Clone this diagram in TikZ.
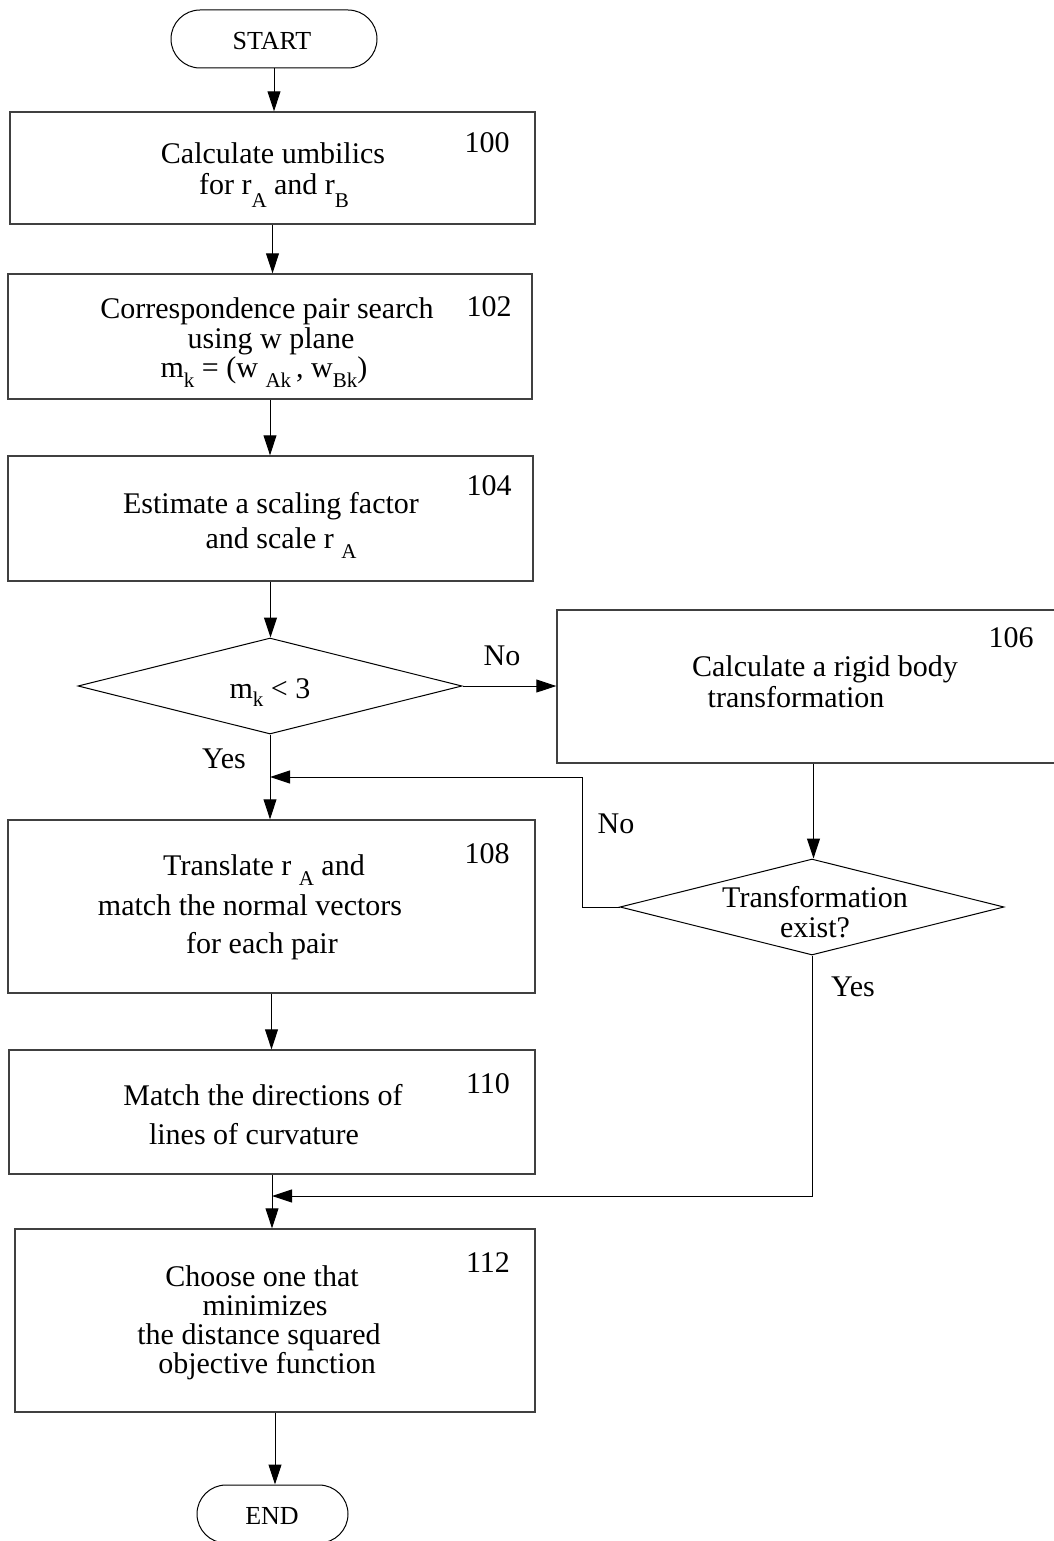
\documentclass[tikz,border=0pt]{standalone}
\usepackage{fontspec}
\setmainfont{Liberation Serif}
\usetikzlibrary{arrows.meta,shapes.geometric}
% lowered, smaller subscript letters as used in the step texts
\newcommand\lowsub[2][10]{\raisebox{-#1pt}{\fontsize{21}{21}\selectfont #2}}

\begin{document}
\begin{tikzpicture}[x=1pt,y=-1pt,
  txt/.style={anchor=base, inner sep=0pt, font=\fontsize{30}{30}\selectfont},
  termtxt/.style={anchor=base, inner sep=0pt, font=\fontsize{26}{26}\selectfont},
  box/.style={draw=black!75, line width=1.4pt, rectangle, inner sep=0pt},
  term/.style={draw=black, line width=1pt, rectangle, rounded corners=29pt,
               inner sep=0pt, minimum height=58pt},
  decision/.style={draw=black, diamond, line width=1pt, inner sep=0pt,
                   minimum width=384pt, minimum height=96pt},
  arr/.style={line width=1pt, -{Triangle[length=20pt,width=13pt]}}]

\useasboundingbox (0,0) rectangle (1053,1541);

% ---- shapes ----
\node[term, minimum width=206pt] (start) at (274,39) {};
\node[box, minimum width=525pt, minimum height=112pt] (b100) at (272.5,168) {};
\node[box, minimum width=524pt, minimum height=125pt] (b102) at (270,336.5) {};
\node[box, minimum width=525pt, minimum height=125pt] (b104) at (270.5,518.5) {};
\node[decision] (d1) at (270,686) {};
\node[box, minimum width=513pt, minimum height=153pt] (b106) at (813.5,686.5) {};
\node[decision] (d2) at (812,907) {};
\node[box, minimum width=527pt, minimum height=173pt] (b108) at (271.5,906.5) {};
\node[box, minimum width=526pt, minimum height=124pt] (b110) at (272,1112) {};
\node[box, minimum width=520pt, minimum height=183pt] (b112) at (275,1320.5) {};
\node[term, minimum width=151pt] (end) at (272.5,1514) {};

% ---- texts ----
\node[termtxt] (tstart) at (272,50) {START};

\node[txt] (t100a) at (273,164) {Calculate umbilics};
\node[txt] (t100b) at (274,195) {for r\lowsub[13]{A} and r\lowsub[13]{B}};
\node[txt] (n100) at (487,153) {100};

\node[txt] (t102a) at (267,318) {Correspondence pair search};
\node[txt] (t102b) at (271,348) {using w plane};
\node[txt] (t102c) at (264,377) {m\lowsub{k} = (w \lowsub{Ak}\,, w\lowsub{Bk})};
\node[txt] (n102) at (489,316) {102};

\node[txt] (t104a) at (271,513) {Estimate a scaling factor};
\node[txt] (t104b) at (281,548) {and scale r \lowsub{A}};
\node[txt] (n104) at (489,495) {104};

\node[txt] (td1) at (270,698) {m\lowsub[8]{k} < 3};
\node[txt] (no1) at (502,665) {No};
\node[txt] (yes1) at (224,768) {Yes};

\node[txt] (t106a) at (825,676) {Calculate a rigid body};
\node[txt] (t106b) at (796,707) {transformation};
\node[txt] (n106) at (1011,647) {106};

\node[txt] (no2) at (616,833) {No};
\node[txt] (td2a) at (815,907) {Transformation};
\node[txt] (td2b) at (815,937) {exist?};
\node[txt] (yes2) at (853,996) {Yes};

\node[txt] (t108a) at (264,875) {Translate r \lowsub{A} and};
\node[txt] (t108b) at (250,915) {match the normal vectors};
\node[txt] (t108c) at (262,953) {for each pair};
\node[txt] (n108) at (487,863) {108};

\node[txt] (t110a) at (263,1105) {Match the directions of};
\node[txt] (t110b) at (254,1144) {lines of curvature};
\node[txt] (n110) at (488,1093) {110};

\node[txt] (t112a) at (262,1286) {Choose one that};
\node[txt] (t112b) at (265,1315) {minimizes};
\node[txt] (t112c) at (259,1344) {the distance squared};
\node[txt] (t112d) at (267,1373) {objective function};
\node[txt] (n112) at (488,1272) {112};

\node[termtxt] (tend) at (272,1524) {END};

% ---- merge points ----
\coordinate (m1) at (270,777);
\coordinate (m2) at (272,1196);

% ---- connectors ----
\draw[arr] (start.south) -- (start.south |- b100.north);
\draw[arr] (b100.south) -- (b100.south |- b102.north);
\draw[arr] (b102.south) -- (b102.south |- b104.north);
\draw[arr] (b104.south) -- (b104.south |- d1.north);
\draw[arr] (d1.east) -- (d1.east -| b106.west);
\draw[arr] (d1.south) -- (d1.south |- b108.north);
\draw[arr] (b106.south) -- (b106.south |- d2.north);
\draw[arr] (d2.west) -- ++(-37,0) |- (m1);
\draw[arr] (b108.south) -- (b108.south |- b110.north);
\draw[arr] (b110.south) -- (b110.south |- b112.north);
\draw[arr] (d2.south) |- (m2);
\draw[arr] (b112.south) -- (b112.south |- end.north);
\end{tikzpicture}
\end{document}
